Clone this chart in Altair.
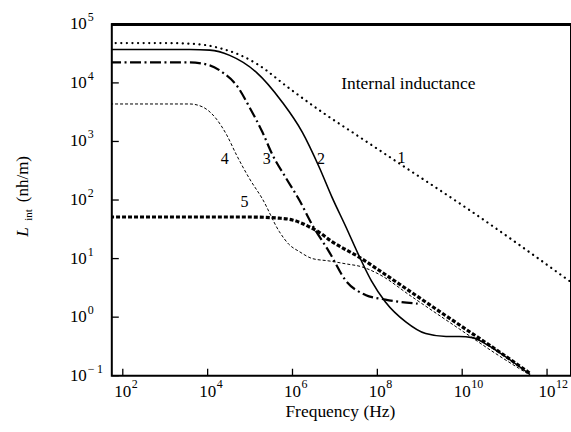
import altair as alt
import pandas as pd

# ---- data (log10 of frequency in Hz, log10 of L_int in nH/m)
c1_logf = [1.7, 3.0, 3.58, 4.0, 4.35, 4.75, 5.15, 5.92, 6.70, 7.49, 8.57, 10.17, 12.6]
c1_logl = [4.68, 4.68, 4.67, 4.64, 4.58, 4.48, 4.33, 3.91, 3.50, 3.12, 2.60, 1.83, 0.58]

c2_logf = [1.7, 3.0, 3.58, 4.05, 4.52, 5.15, 5.76, 6.23, 6.63, 6.93, 7.26, 7.56, 7.86,
           8.19, 8.67, 9.14, 9.62, 9.93, 10.24, 10.56, 10.87, 11.6]
c2_logl = [4.57, 4.57, 4.57, 4.56, 4.47, 4.18, 3.67, 3.16, 2.56, 2.05, 1.54, 1.06, 0.62,
           0.26, -0.08, -0.28, -0.33, -0.33, -0.35, -0.46, -0.60, -0.98]

c3_logf = [1.7, 3.0, 3.58, 4.05, 4.35, 4.68, 4.99, 5.29, 5.53, 5.86, 6.16, 6.47, 6.86,
           7.26, 7.72, 8.19, 8.95]
c3_logl = [4.35, 4.35, 4.35, 4.30, 4.18, 3.96, 3.58, 3.16, 2.77, 2.36, 2.0, 1.57, 1.12,
           0.62, 0.38, 0.30, 0.23]

c4_logf = [1.7, 3.0, 3.58, 3.88, 4.21, 4.45, 4.68, 4.99, 5.29, 5.69, 5.92, 6.16, 6.47,
           6.86, 7.26, 7.63, 8.02, 8.81, 9.93, 10.87, 11.53]
c4_logl = [3.64, 3.64, 3.64, 3.59, 3.38, 3.11, 2.77, 2.36, 2.02, 1.46, 1.24, 1.12, 1.0,
           0.96, 0.91, 0.86, 0.74, 0.35, -0.20, -0.66, -0.96]

c5_logf = [1.7, 4.0, 5.0, 5.69, 6.0, 6.2, 6.4, 6.63, 6.93, 7.09, 7.56, 8.02, 8.81, 9.93,
           10.87, 11.62]
c5_logl = [1.71, 1.71, 1.71, 1.69, 1.66, 1.61, 1.54, 1.45, 1.29, 1.22, 1.03, 0.81, 0.42,
           -0.13, -0.59, -0.97]

label_text = ["1", "2", "3", "4", "5"]
label_logf = [8.57, 6.67, 5.39, 4.40, 4.87]
label_logl = [2.72, 2.70, 2.70, 2.70, 1.97]

note_text = ["Internal inductance"]
note_logf = [8.73]
note_logl = [3.98]

x_tick_exp = [2, 4, 6, 8, 10, 12]
y_tick_exp = [-1, 0, 1, 2, 3, 4, 5]
x_title = "Frequency (Hz)"
y_title = ["L", "int", "(nh/m)"]

# ---- tables
curves = {"1": (c1_logf, c1_logl), "2": (c2_logf, c2_logl), "3": (c3_logf, c3_logl),
          "4": (c4_logf, c4_logl), "5": (c5_logf, c5_logl)}
rows = []
for name, (lf, ll) in curves.items():
    for i, (a, b) in enumerate(zip(lf, ll)):
        rows.append({"series": name, "i": i, "f": 10 ** a, "L": 10 ** b})
df = pd.DataFrame(rows)

df_lab = pd.DataFrame({"t": label_text, "f": [10 ** v for v in label_logf],
                       "L": [10 ** v for v in label_logl]})
df_note = pd.DataFrame({"t": note_text, "f": [10 ** v for v in note_logf],
                        "L": [10 ** v for v in note_logl]})


def exp_str(e):
    return ("\u2212\u2009" + str(-e)) if e < 0 else str(e)


df_xt = pd.DataFrame({"v": [10.0 ** e for e in x_tick_exp], "base": "10",
                      "exp": [exp_str(e) for e in x_tick_exp]})
df_yt = pd.DataFrame({"v": [10.0 ** e for e in y_tick_exp], "base": "10",
                      "exp": [exp_str(e) for e in y_tick_exp]})

W, H = 460, 352
FONT = "Liberation Serif"
LOG_LEFT = 1.741
LOG_RIGHT = LOG_LEFT + W / 42.5

xs = alt.Scale(type="log", domain=[10 ** LOG_LEFT, 10 ** LOG_RIGHT], nice=False)
ys = alt.Scale(type="log", domain=[1e-1, 1e5], nice=False)

X = lambda fld: alt.X(fld, scale=xs, axis=None)
Y = lambda fld: alt.Y(fld, scale=ys, axis=None)

styles = {
    "1": dict(strokeDash=[0.1, 5.5], strokeWidth=2.2, strokeCap="round"),
    "2": dict(strokeWidth=1.6),
    "3": dict(strokeDash=[11, 3.5, 2, 3.5], strokeWidth=2.2),
    "4": dict(strokeDash=[3, 2], strokeWidth=1.0),
    "5": dict(strokeDash=[4, 2], strokeWidth=3.2),
}

layers = []
for name, st in styles.items():
    layers.append(
        alt.Chart(df).transform_filter(alt.datum.series == name)
        .mark_line(color="black", clip=True, interpolate="monotone", **st)
        .encode(x=X("f:Q"), y=Y("L:Q"), order="i:Q")
    )

xticks = alt.Chart(df_xt).mark_rule(color="black", strokeWidth=1.3).encode(
    x=X("v:Q"), y=alt.value(H), y2=alt.value(H - 7))
yticks = alt.Chart(df_yt).mark_rule(color="black", strokeWidth=1.3).encode(
    y=Y("v:Q"), x=alt.value(0), x2=alt.value(7))
topline = alt.Chart(df_xt).mark_rule(color="black", strokeWidth=2.5).encode(
    x=alt.value(0), x2=alt.value(W), y=alt.value(0))

# tick labels: "10" with a raised exponent
xlab_base = alt.Chart(df_xt).mark_text(font=FONT, fontSize=17, align="center",
                                       baseline="middle", color="black").encode(
    x=X("v:Q"), y=alt.value(H + 16), text="base:N")
xlab_exp = alt.Chart(df_xt).mark_text(font=FONT, fontSize=12, align="left", dx=9,
                                      baseline="middle", color="black").encode(
    x=X("v:Q"), y=alt.value(H + 8), text="exp:N")
ylab_base = alt.Chart(df_yt).mark_text(font=FONT, fontSize=17, align="right",
                                       baseline="middle", color="black").encode(
    y=Y("v:Q"), x=alt.value(-25), text="base:N")
ylab_exp = alt.Chart(df_yt).mark_text(font=FONT, fontSize=12, align="left", dy=-7,
                                      baseline="middle", color="black").encode(
    y=Y("v:Q"), x=alt.value(-24), text="exp:N")

labels = alt.Chart(df_lab).mark_text(font=FONT, fontSize=16, color="black").encode(
    x=X("f:Q"), y=Y("L:Q"), text="t:N")
note = alt.Chart(df_note).mark_text(font=FONT, fontSize=17.5, color="black").encode(
    x=X("f:Q"), y=Y("L:Q"), text="t:N")

xtitle = alt.Chart(pd.DataFrame({"t": [x_title]})).mark_text(
    font=FONT, fontSize=17.5, align="center", baseline="middle", color="black").encode(
    text="t:N", x=alt.value(229), y=alt.value(H + 36))
ytitle_L = alt.Chart(pd.DataFrame({"t": [y_title[0]]})).mark_text(
    font=FONT, fontSize=17, fontStyle="italic", angle=270, align="center",
    baseline="middle", color="black").encode(text="t:N", x=alt.value(-89), y=alt.value(208))
ytitle_sub = alt.Chart(pd.DataFrame({"t": [y_title[1]]})).mark_text(
    font=FONT, fontSize=11, angle=270, align="center",
    baseline="middle", color="black").encode(text="t:N", x=alt.value(-83), y=alt.value(191))
ytitle_unit = alt.Chart(pd.DataFrame({"t": [y_title[2]]})).mark_text(
    font=FONT, fontSize=17, angle=270, align="center",
    baseline="middle", color="black").encode(text="t:N", x=alt.value(-89), y=alt.value(155))

chart = alt.layer(
    *layers, xticks, yticks, topline, xlab_base, xlab_exp, ylab_base, ylab_exp,
    labels, note, xtitle, ytitle_L, ytitle_sub, ytitle_unit
).properties(
    width=W, height=H,
    autosize=alt.AutoSizeParams(type="none"),
    padding={"left": 112, "top": 24, "right": 0, "bottom": 56},
).configure_view(
    stroke="black", strokeWidth=2
)

chart.save("out.html", embed_options={"renderer": "svg", "actions": False})
